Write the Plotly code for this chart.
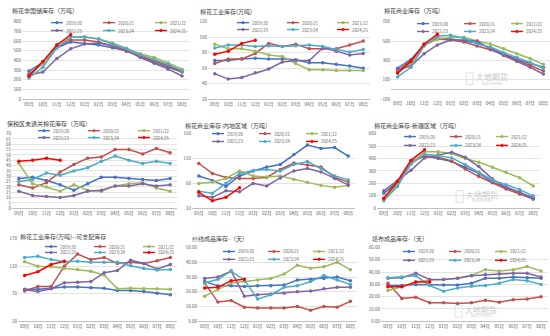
import plotly.graph_objects as go

W, H = 550, 336
FONT = "Noto Sans CJK SC"

months = ["09月", "10月", "11月", "12月", "01月", "02月", "03月", "04月", "05月", "06月", "07月", "08月"]
seasons = ["2019/20", "2020/21", "2021/22", "2022/23", "2023/24", "2024/25"]
colors = ["#4472C4", "#C0504D", "#9BBB59", "#8064A2", "#4BACC6", "#FF0000"]

titles = [
    "棉花非国储库存（万吨）",
    "棉花工业库存(万吨)",
    "棉花商业库存（万吨）",
    "保税区未通关棉花库存（万吨）",
    "棉花商业库存-内地区域（万吨）",
    "棉花商业库存-新疆区域（万吨）",
    "棉花工业库存(万吨)--可支配库存",
    "纱线成品库存-（天）",
    "坯布成品库存-（天）",
]

# 1 棉花非国储库存
ch1 = [
    [290, 380, 530, 590, 575, 560, 530, 500, 440, 380, 330, 280],
    [260, 370, 540, 610, 610, 590, 545, 495, 450, 400, 345, 285],
    [240, 370, 560, 640, 640, 625, 580, 525, 470, 430, 375, 310],
    [250, 280, 420, 520, 570, 580, 555, 505, 430, 370, 310, 240],
    [220, 330, 530, 640, 645, 620, 570, 520, 460, 410, 360, 295],
    [240, 390, 560, 665],
]
# 2 棉花工业库存
ch2 = [
    [70, 70, 72, 73, 72, 72, 71, 67, 67, 65, 63, 60],
    [66, 72, 72, 79, 92, 88, 91, 85, 85, 85, 90, 95],
    [91, 85, 85, 82, 77, 75, 66, 58, 58, 57, 57, 57],
    [53, 46, 48, 54, 59, 68, 70, 70, 86, 82, 77, 79],
    [86, 90, 90, 88, 89, 88, 89, 90, 88, 84, 81, 84],
    [78, 82, 92, 96],
]
# 3 棉花商业库存
ch3 = [
    [220, 310, 460, 530, 520, 500, 480, 430, 370, 310, 270, 230],
    [190, 300, 460, 520, 510, 490, 450, 410, 360, 300, 250, 190],
    [170, 270, 460, 520, 540, 540, 500, 470, 420, 370, 320, 260],
    [210, 240, 370, 460, 510, 510, 500, 420, 350, 290, 230, 160],
    [130, 230, 450, 550, 560, 530, 470, 440, 380, 330, 280, 220],
    [170, 290, 470, 570],
]
# 4 保税区未通关棉花库存
ch4 = [
    [28, 29, 26, 22, 17, 23, 29, 29, 28, 27, 26, 28],
    [22, 19, 24, 34, 41, 47, 48, 55, 55, 51, 56, 52],
    [42, 23, 20, 16, 22, 17, 16, 21, 23, 24, 19, 16],
    [16, 12, 11, 10, 12, 16, 17, 21, 21, 23, 21, 22],
    [25, 27, 33, 31, 35, 38, 44, 49, 45, 42, 44, 42],
    [44, 45, 47, 45],
]
# 5 商业库存-内地区域
ch5 = [
    [75, 66, 54, 75, 85, 93, 98, 118, 137, 130, 132, 115],
    [100, 80, 72, 70, 70, 72, 88, 101, 97, 93, 72, 63],
    [60, 63, 70, 85, 75, 73, 75, 68, 62, 56, 52, 56],
    [35, 32, 45, 43, 60, 55, 71, 85, 90, 83, 70, 57],
    [44, 40, 60, 80, 86, 88, 85, 98, 104, 90, 75, 67],
    [42, 25, 32, 51],
]
# 6 商业库存-新疆区域
ch6 = [
    [120, 210, 380, 420, 400, 375, 330, 280, 210, 170, 130, 85],
    [75, 200, 370, 420, 410, 380, 315, 255, 205, 155, 115, 75],
    [70, 190, 360, 455, 455, 440, 400, 370, 330, 290, 245, 180],
    [140, 220, 305, 405, 430, 450, 410, 335, 235, 170, 130, 75],
    [60, 175, 355, 435, 425, 405, 350, 290, 225, 190, 150, 100],
    [80, 215, 385, 470],
]
# 7 工业库存--可支配库存
ch7 = [
    [78, 78, 80, 82, 82, 81, 80, 76, 76, 74, 71, 68],
    [75, 83, 83, 120, 142, 132, 136, 125, 127, 125, 130, 136],
    [128, 120, 119, 116, 114, 111, 104, 79, 80, 79, 79, 78],
    [77, 74, 79, 90, 91, 92, 108, 112, 131, 125, 115, 123],
    [136, 138, 132, 128, 129, 127, 127, 127, 121, 116, 113, 114],
    [103, 110, 123, 129],
]
# 8 纱线成品库存（天）
ch8 = [
    [27, 24, 24, 23.5, 24, 24, 24.5, 28, 28.5, 29, 30, 27.5],
    [26, 13, 14, 9.5, 9, 9, 9, 10, 7.5, 10, 9.5, 13.5],
    [17, 21.5, 26, 27, 28, 29, 32, 38, 36, 37, 40, 35],
    [29, 30, 34, 17, 18, 18.5, 19, 20, 20.5, 22, 23, 23],
    [26, 28.5, 34, 28, 15, 18, 23, 24, 27, 31, 28, 25],
    [22.5, 23, 27.5, 28.5],
]
# 9 坯布成品库存（天）
ch9 = [
    [29, 29, 30, 29.5, 29.5, 29.5, 31, 35, 35, 36, 35.5, 35],
    [31, 18.5, 19.5, 15, 15, 14.5, 15, 17, 15.5, 17.5, 18, 20],
    [25, 28, 32, 33.5, 34, 35, 37.5, 42, 41, 42, 44.5, 41],
    [35, 35.5, 39, 34, 34, 35, 37, 38, 38.5, 39, 39, 36],
    [35.5, 36, 37, 29, 24.5, 27, 28.5, 29, 31, 34, 33, 30],
    [28, 28, 32, 32],
]

charts = [ch1, ch2, ch3, ch4, ch5, ch6, ch7, ch8, ch9]

# layout config (pixels): plot x0,x1,y_top,y_bottom ; y range/dtick ; title pos ; legend pos
cfg = [
    dict(px=(22, 189, 19, 98), yr=(0, 800), dt=100, fmt="d", tt=(10, 8), lg=(51, 52, 20, 28), zero=False),
    dict(px=(208, 370, 19, 98), yr=(20, 120), dt=20, fmt="d", tt=(198, 9), lg=(237, 50, 20, 27), zero=False),
    dict(px=(391, 550, 19, 98), yr=(-100, 700), dt=200, fmt="d", tt=(382, 8), lg=(417, 47, 21, 29), zero=True),
    dict(px=(12, 177, 133, 209), yr=(0, 70), dt=5, fmt="d", tt=(5, 123), lg=(38, 50, 130, 137), zero=False),
    dict(px=(192, 355, 133, 209), yr=(10, 160), dt=50, fmt="d", tt=(183, 125), lg=(212, 47, 133, 141), zero=False),
    dict(px=(377, 540, 133, 209), yr=(0, 600), dt=100, fmt="d", tt=(372, 125), lg=(404, 46, 136, 145), zero=False),
    dict(px=(18, 177, 240, 324), yr=(20, 170), dt=50, fmt="d", tt=(18, 238), lg=(45, 49, 248, 254), zero=False),
    dict(px=(198, 357, 249, 324), yr=(0, 50), dt=10, fmt=".2f", tt=(190, 240), lg=(223, 45, 253, 261), zero=False),
    dict(px=(381, 548, 249, 324), yr=(0, 60), dt=10, fmt=".2f", tt=(370, 240), lg=(403, 46, 253, 262), zero=False),
]

fig = go.Figure()
layout = dict(
    width=W, height=H, margin=dict(l=0, r=0, t=0, b=0),
    paper_bgcolor="white", plot_bgcolor="white", showlegend=False,
    font=dict(family=FONT, size=4.5, color="#595959"),
)
shapes = []
annotations = []


def px2x(v):
    return v / W


def px2y(v):
    return 1 - v / H


for i, (data, c) in enumerate(zip(charts, cfg), start=1):
    sfx = "" if i == 1 else str(i)
    x0, x1, yt, yb = c["px"]
    for k, vals in enumerate(data):
        fig.add_trace(go.Scatter(
            x=months[:len(vals)], y=vals, mode="lines+markers",
            name=seasons[k], xaxis="x" + sfx, yaxis="y" + sfx,
            line=dict(color=colors[k], width=1.5),
            marker=dict(color=colors[k], size=3.5, symbol="circle"),
        ))
    layout["xaxis" + sfx] = dict(
        domain=[px2x(x0), px2x(x1)], anchor="y" + sfx, type="category",
        categoryorder="array", categoryarray=months, range=[-0.5, 11.5],
        showgrid=False, showline=not c["zero"], linecolor="#BFBFBF", linewidth=0.8,
        ticks="", tickfont=dict(size=4.5, color="#595959"), fixedrange=True,
    )
    layout["yaxis" + sfx] = dict(
        domain=[px2y(yb), px2y(yt)], anchor="x" + sfx, range=list(c["yr"]),
        dtick=c["dt"], tick0=c["yr"][0], tickformat=c["fmt"],
        showgrid=True, gridcolor="#E3E3E3", gridwidth=0.6,
        zeroline=c["zero"], zerolinecolor="#BFBFBF", zerolinewidth=0.8,
        showline=False, ticks="", tickfont=dict(size=4.5, color="#595959"),
        fixedrange=True,
    )
    # title
    tx, ty = c["tt"]
    annotations.append(dict(
        text=titles[i - 1], xref="paper", yref="paper", x=px2x(tx), y=px2y(ty),
        xanchor="left", yanchor="middle", showarrow=False,
        font=dict(family=FONT, size=6, color="#404040"),
    ))
    # legend (2 rows x 3 columns)
    lx, sp, r1, r2 = c["lg"]
    for k, s in enumerate(seasons):
        col = k % 3
        row_y = r1 if k < 3 else r2
        sx = lx + col * sp
        shapes.append(dict(type="line", xref="paper", yref="paper",
                           x0=px2x(sx), x1=px2x(sx + 12), y0=px2y(row_y), y1=px2y(row_y),
                           line=dict(color=colors[k], width=1.4)))
        shapes.append(dict(type="circle", xref="paper", yref="paper",
                           x0=px2x(sx + 4.7), x1=px2x(sx + 7.3),
                           y0=px2y(row_y + 1.3), y1=px2y(row_y - 1.3),
                           fillcolor=colors[k], line=dict(color=colors[k], width=0.5)))
        annotations.append(dict(
            text=s, xref="paper", yref="paper", x=px2x(sx + 13), y=px2y(row_y),
            xanchor="left", yanchor="middle", showarrow=False,
            font=dict(family=FONT, size=4.3, color="#595959"),
        ))

# watermarks (text centre x, y)
for (wx, wy) in [(492, 77), (482, 197), (481, 314)]:
    annotations.append(dict(
        text="大地期货", xref="paper", yref="paper", x=px2x(wx), y=px2y(wy - 2),
        xanchor="center", yanchor="middle", showarrow=False,
        font=dict(family=FONT, size=8, color="#C8C8C8"),
    ))
    annotations.append(dict(
        text="DADI FUTURES", xref="paper", yref="paper", x=px2x(wx), y=px2y(wy + 5),
        xanchor="center", yanchor="middle", showarrow=False,
        font=dict(family=FONT, size=3, color="#C8C8C8"),
    ))
    shapes.append(dict(type="rect", xref="paper", yref="paper",
                       x0=px2x(wx - 26), x1=px2x(wx - 19), y0=px2y(wy + 6), y1=px2y(wy - 6),
                       line=dict(color="#D6E2F0", width=1), fillcolor="rgba(0,0,0,0)"))

layout["shapes"] = shapes
layout["annotations"] = annotations
fig.update_layout(**layout)
fig.write_html("out.html")
